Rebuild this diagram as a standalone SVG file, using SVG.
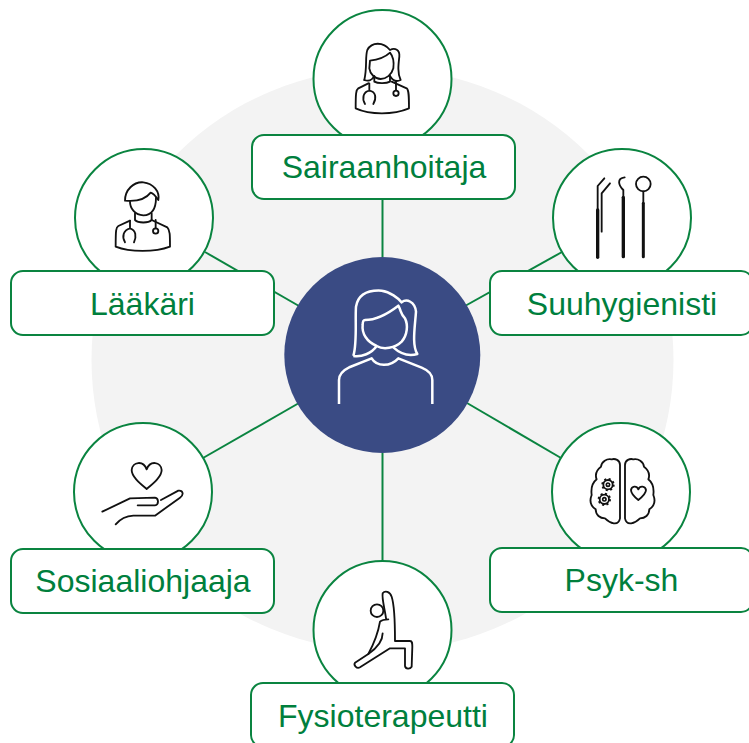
<svg xmlns="http://www.w3.org/2000/svg" width="749" height="743" viewBox="0 0 749 743">
<style>
.ring{fill:#fff;stroke:#0a8440;stroke-width:2}
.box{fill:#fff;stroke:#0a8440;stroke-width:2}
.conn{stroke:#0a8440;stroke-width:2;fill:none}
.lbl{font-family:"Liberation Sans",Arial,sans-serif;font-size:32px;fill:#007f3d;text-anchor:middle}
.ic{fill:none;stroke:#111;stroke-width:5.500;stroke-linecap:round;stroke-linejoin:round}
.icw{fill:none;stroke:#fff;stroke-width:7.500;stroke-linejoin:round}
</style>
<rect width="749" height="743" fill="#fff"/>
<circle cx="382.500" cy="360" r="291" fill="#f3f3f3"/>
<g id="connectors" class="conn">
<line x1="382.500" y1="199" x2="382.500" y2="257"/>
<line x1="205" y1="252" x2="299" y2="306"/>
<line x1="562" y1="252" x2="465" y2="306"/>
<line x1="203" y1="458" x2="299" y2="403"/>
<line x1="561" y1="458" x2="467" y2="403"/>
<line x1="382.500" y1="453" x2="382.500" y2="561"/>
</g>
<g id="node-center">
<circle cx="382.300" cy="355" r="98" fill="#3a4b84"/>
<g transform="translate(320 270) scale(.3333)" class="icw">
<path d="M100,258C112,220 105,150 108,110C115,70 150,60 185,62C210,65 235,85 245,97C260,85 285,95 288,125C285,170 275,225 292,252C270,258 245,255 220,232"/>
<path d="M100,258C125,262 155,250 170,228"/>
<path d="M135,150C170,150 205,130 235,107C245,125 240,130 255,145C265,165 262,195 245,215C225,235 190,240 170,228C140,215 125,190 128,165C128,155 130,150 135,150Z"/>
<path d="M57,402V330C57,312 72,300 90,291L155,265C170,290 210,292 235,265L305,293C322,300 337,312 337,330V402"/>
</g>
</g>
<g id="node-sairaanhoitaja">
<circle class="ring" cx="382.500" cy="79" r="69"/>
<g transform="translate(310 0) scale(.3333)" class="ic">
<path d="M163,240C172,200 165,170 172,150C185,125 220,125 240,150C255,142 270,150 268,170C265,195 262,220 272,240C262,245 250,245 240,228"/>
<path d="M163,240C175,245 187,240 193,228"/>
<path d="M180,182C200,180 225,172 240,158C250,170 252,190 250,205C245,225 228,237 212,237C195,237 180,222 178,205Z"/>
<path d="M193,232V245C205,252 230,250 240,245V228"/>
<path d="M175,250L145,265C138,270 137,280 137,325C180,345 250,345 297,325C297,290 297,270 290,265L245,245"/>
<path d="M178,250V272M165,312C155,295 160,275 178,272C198,275 200,295 190,312M258,245V270"/>
<circle cx="258" cy="280" r="8"/>
</g>
<rect class="box" x="252" y="135" width="263" height="64" rx="12"/>
<text class="lbl" x="384" y="178">Sairaanhoitaja</text>
</g>
<g id="node-laakari">
<circle class="ring" cx="144" cy="218" r="69"/>
<g transform="translate(80 150) scale(.3333)" class="ic">
<path d="M135,152C135,120 160,95 190,97C220,100 240,125 235,150C228,140 220,130 212,128C195,150 165,155 135,152Z"/>
<path d="M150,155C150,175 165,195 190,196C215,195 228,175 228,143"/>
<path d="M165,190V210C175,220 205,220 215,210V190"/>
<path d="M150,212L115,228C108,232 107,240 107,290C150,307 225,307 270,290C270,255 270,240 262,232L215,210"/>
<path d="M150,212V235M135,277C125,260 130,240 150,235C168,240 170,260 162,277M227,210V235"/>
<circle cx="227" cy="243" r="8"/>
</g>
<rect class="box" x="11" y="271" width="263" height="64" rx="12"/>
<text class="lbl" x="142.500" y="315">Lääkäri</text>
</g>
<g id="node-suuhygienisti">
<circle class="ring" cx="622" cy="218" r="69"/>
<g transform="translate(560 160) scale(.3333)" class="ic">
<path d="M113,150V78L133,55M125,215V100L150,70"/>
<path d="M113,150V292" stroke-width="10"/>
<path d="M190,112V90C175,75 170,55 194,52"/>
<path d="M190,112V290" stroke-width="10"/>
<circle cx="250" cy="72" r="22"/>
<path d="M250,94V130"/>
<path d="M250,130V290" stroke-width="9"/>
</g>
<rect class="box" x="490" y="271" width="263" height="64" rx="12"/>
<text class="lbl" x="622" y="315">Suuhygienisti</text>
</g>
<g id="node-psyk-sh">
<circle class="ring" cx="621" cy="492" r="69"/>
<g transform="translate(570 440) scale(.3333)" class="ic">
<path d="M165,75C165,60 180,55 190,58C205,55 220,65 222,80C235,90 240,105 235,118C250,130 252,150 250,165C258,185 250,200 238,208C238,225 225,235 210,235C195,250 170,260 165,235Z"/>
<path d="M150,75C150,60 135,55 125,58C110,55 95,65 93,80C80,90 75,105 80,118C65,130 63,150 65,165C57,185 65,200 77,208C77,225 90,235 105,235C120,250 145,260 150,235Z"/>
<circle cx="114" cy="134" r="14"/>
<circle cx="114" cy="134" r="17" stroke-width="6" stroke-dasharray="6 7.350" stroke-linecap="butt"/>
<circle cx="114" cy="134" r="5" stroke-width="5"/>
<circle cx="103" cy="178" r="14"/>
<circle cx="103" cy="178" r="17" stroke-width="6" stroke-dasharray="6 7.350" stroke-linecap="butt"/>
<circle cx="103" cy="178" r="5" stroke-width="5"/>
<path d="M205,180C195,172 183,160 183,150C185,138 200,136 205,148C210,136 226,138 228,150C228,160 215,172 205,180Z"/>
</g>
<rect class="box" x="490" y="548" width="263" height="64" rx="12"/>
<text class="lbl" x="621.500" y="591">Psyk-sh</text>
</g>
<g id="node-sosiaaliohjaaja">
<circle class="ring" cx="143" cy="492" r="69"/>
<g transform="translate(90 450) scale(.3333)" class="ic">
<path d="M170,117C150,100 125,80 125,60C127,35 160,30 170,58C180,30 213,35 215,60C215,80 190,100 170,117Z"/>
<path d="M37,185L120,145L195,143C207,145 207,165 195,166H143"/>
<path d="M213,150L265,122C280,120 282,135 270,143L195,197H130C110,198 90,208 77,223"/>
</g>
<rect class="box" x="11" y="549" width="263" height="64" rx="12"/>
<text class="lbl" x="143" y="592">Sosiaaliohjaaja</text>
</g>
<g id="node-fysioterapeutti">
<circle class="ring" cx="382.500" cy="630" r="69"/>
<g transform="translate(330 580) scale(.3333)" class="ic">
<circle cx="141" cy="92" r="19"/>
<path d="M168,115C165,90 155,55 158,40C165,30 180,35 185,50C195,80 195,130 195,183H240C247,183 247,190 247,200L245,260C240,268 227,268 225,258V205H180L90,262C80,268 70,255 75,248L115,222C135,185 145,155 150,125C155,120 165,118 175,118"/>
<path d="M158,160C158,185 140,205 115,222"/>
</g>
<rect class="box" x="251" y="683" width="263" height="64" rx="12"/>
<text class="lbl" x="383" y="727">Fysioterapeutti</text>
</g>
</svg>
